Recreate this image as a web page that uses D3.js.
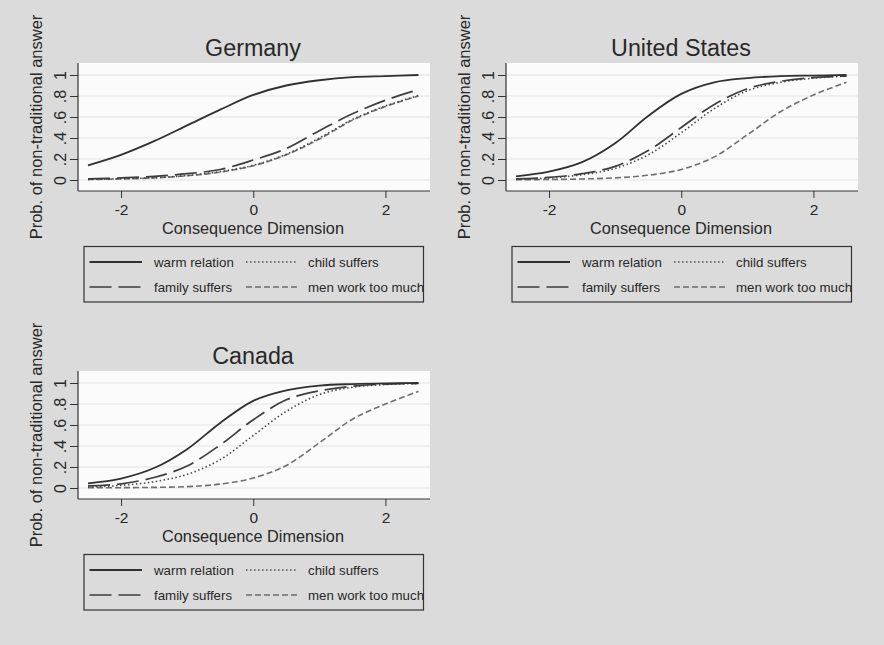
<!DOCTYPE html>
<html><head><meta charset="utf-8">
<script src="https://cdn.jsdelivr.net/npm/d3@7"></script>
<style>
html,body{margin:0;padding:0;background:#dbdbdb;}
svg{display:block;font-family:"Liberation Sans",Arial,Helvetica,sans-serif;}
</style>
</head><body>
<svg id="chart" width="884" height="645"></svg>
<script>
// ---- data ----
const xValues = [-2.5, -2, -1.5, -1, -0.5, 0, 0.5, 1, 1.5, 2, 2.5];

const germanyWarm   = [0.14, 0.24, 0.37, 0.52, 0.67, 0.81, 0.90, 0.95, 0.98, 0.99, 1.0];
const germanyChild  = [0.006, 0.012, 0.022, 0.043, 0.08, 0.14, 0.245, 0.40, 0.575, 0.705, 0.805];
const germanyFamily = [0.01, 0.02, 0.035, 0.06, 0.10, 0.19, 0.30, 0.47, 0.63, 0.76, 0.86];
const germanyMen    = [0.005, 0.01, 0.02, 0.04, 0.075, 0.135, 0.24, 0.39, 0.57, 0.70, 0.80];

const usWarm   = [0.035, 0.08, 0.17, 0.35, 0.61, 0.82, 0.93, 0.97, 0.99, 0.995, 1.0];
const usChild  = [0.006, 0.02, 0.05, 0.11, 0.24, 0.45, 0.68, 0.85, 0.93, 0.97, 0.99];
const usFamily = [0.01, 0.025, 0.06, 0.13, 0.28, 0.50, 0.72, 0.87, 0.94, 0.975, 0.99];
const usMen    = [0.003, 0.005, 0.01, 0.02, 0.045, 0.10, 0.22, 0.43, 0.65, 0.81, 0.93];

const canadaWarm   = [0.045, 0.09, 0.19, 0.37, 0.62, 0.83, 0.93, 0.975, 0.99, 0.997, 1.0];
const canadaChild  = [0.01, 0.025, 0.06, 0.13, 0.27, 0.50, 0.73, 0.89, 0.96, 0.985, 0.995];
const canadaFamily = [0.02, 0.04, 0.10, 0.21, 0.41, 0.65, 0.84, 0.925, 0.97, 0.99, 0.995];
const canadaMen    = [0.002, 0.003, 0.006, 0.013, 0.037, 0.095, 0.215, 0.43, 0.655, 0.80, 0.92];

const panelTitles = ["Germany", "United States", "Canada"];
const seriesNames = ["warm relation", "child suffers", "family suffers", "men work too much"];
const yTicks = [0, 0.2, 0.4, 0.6, 0.8, 1];
const yTickLabels = ["0", ".2", ".4", ".6", ".8", "1"];
const xTicks = [-2, 0, 2];
const xTickLabels = ["-2", "0", "2"];
const xTitle = "Consequence Dimension";
const yTitle = "Prob. of non-traditional answer";

// ---- layout / styles ----
const panelData = [
  [germanyWarm, germanyChild, germanyFamily, germanyMen],
  [usWarm, usChild, usFamily, usMen],
  [canadaWarm, canadaChild, canadaFamily, canadaMen]
];
const panelOffsets = [[0, 0], [428, 0], [0, 308]];
const seriesDash = [null, "1.5,2.5", "22,7", "6,3"];
const seriesColor = ["#303030", "#4a4a4a", "#3e3e3e", "#6e6e6e"];
const seriesWidth = [1.8, 1.6, 1.7, 1.6];
const textColor = "#282828";
const axisColor = "#333333";

const svg = d3.select("#chart");
svg.append("rect").attr("width", 884).attr("height", 645).attr("fill", "#dbdbdb");

const x = d3.scaleLinear().domain([-2.5, 2.5]).range([88, 418.5]);
const y = d3.scaleLinear().domain([0, 1]).range([180, 75]);
const plotL = 78, plotR = 430, plotT = 63, plotB = 191;

panelData.forEach((series, p) => {
  const [dx, dy] = panelOffsets[p];
  const g = svg.append("g").attr("transform", `translate(${dx},${dy})`);

  // plot region
  g.append("rect").attr("x", plotL).attr("y", plotT)
    .attr("width", plotR - plotL).attr("height", plotB - plotT)
    .attr("fill", "#fbfbfb");

  // grid
  g.append("g").selectAll("line").data(yTicks).join("line")
    .attr("x1", plotL).attr("x2", plotR)
    .attr("y1", d => y(d)).attr("y2", d => y(d))
    .attr("stroke", "#e3e3e3").attr("stroke-width", 1);

  // y axis
  const ya = g.append("g").attr("transform", `translate(${plotL},0)`)
    .call(d3.axisLeft(y).tickValues(yTicks).tickFormat((d, i) => yTickLabels[i]).tickSize(8).tickSizeOuter(0));
  ya.select(".domain").remove();
  ya.selectAll(".tick line").attr("stroke", axisColor);
  ya.selectAll(".tick text")
    .attr("transform", "rotate(-90)")
    .attr("x", 0).attr("y", -12).attr("dy", 0)
    .attr("text-anchor", "middle")
    .attr("font-size", 16).attr("fill", textColor)
    .attr("font-family", "'Liberation Sans',Arial,sans-serif");
  g.append("line").attr("x1", plotL).attr("x2", plotL).attr("y1", plotT).attr("y2", plotB)
    .attr("stroke", axisColor).attr("stroke-width", 1.2);

  // x axis
  const xa = g.append("g").attr("transform", `translate(0,${plotB})`)
    .call(d3.axisBottom(x).tickValues(xTicks).tickFormat((d, i) => xTickLabels[i]).tickSize(7).tickSizeOuter(0));
  xa.select(".domain").remove();
  xa.selectAll(".tick line").attr("stroke", axisColor);
  xa.selectAll(".tick text")
    .attr("y", 24).attr("dy", 0)
    .attr("font-size", 15.5).attr("fill", textColor)
    .attr("font-family", "'Liberation Sans',Arial,sans-serif");
  g.append("line").attr("x1", plotL).attr("x2", plotR).attr("y1", plotB).attr("y2", plotB)
    .attr("stroke", axisColor).attr("stroke-width", 1.2);

  // curves
  const line = d3.line()
    .x((d, i) => x(xValues[i]))
    .y(d => y(d))
    .curve(d3.curveCatmullRom.alpha(0.5));
  [3, 1, 2, 0].forEach(s => {
    g.append("path").datum(series[s])
      .attr("d", line)
      .attr("fill", "none")
      .attr("stroke", seriesColor[s])
      .attr("stroke-width", seriesWidth[s])
      .attr("stroke-dasharray", seriesDash[s]);
  });

  // titles
  g.append("text").attr("x", 253).attr("y", 56).attr("text-anchor", "middle")
    .attr("font-size", 23.3).attr("fill", textColor).text(panelTitles[p]);
  g.append("text").attr("x", 253).attr("y", 234).attr("text-anchor", "middle")
    .attr("font-size", 16.3).attr("fill", textColor).text(xTitle);
  g.append("text").attr("transform", "translate(42,127) rotate(-90)").attr("text-anchor", "middle")
    .attr("font-size", 16.5).attr("fill", textColor).text(yTitle);

  // legend
  g.append("rect").attr("x", 84).attr("y", 246.5).attr("width", 339.5).attr("height", 55.5)
    .attr("fill", "none").attr("stroke", "#333").attr("stroke-width", 1.2);
  const legPos = [[0, 0], [1, 0], [0, 1], [1, 1]]; // col,row for series order
  const lineX = [[89.5, 142], [246, 298]];
  const textX = [154, 308];
  const rowY = [262, 287];
  seriesNames.forEach((name, s) => {
    const [c, r] = legPos[s];
    g.append("line").attr("x1", lineX[c][0]).attr("x2", lineX[c][1])
      .attr("y1", rowY[r]).attr("y2", rowY[r])
      .attr("stroke", seriesColor[s]).attr("stroke-width", seriesWidth[s])
      .attr("stroke-dasharray", seriesDash[s]);
    g.append("text").attr("x", textX[c]).attr("y", rowY[r] + 4.7)
      .attr("font-size", 13.3).attr("fill", textColor).text(name);
  });
});
</script>
</body></html>
